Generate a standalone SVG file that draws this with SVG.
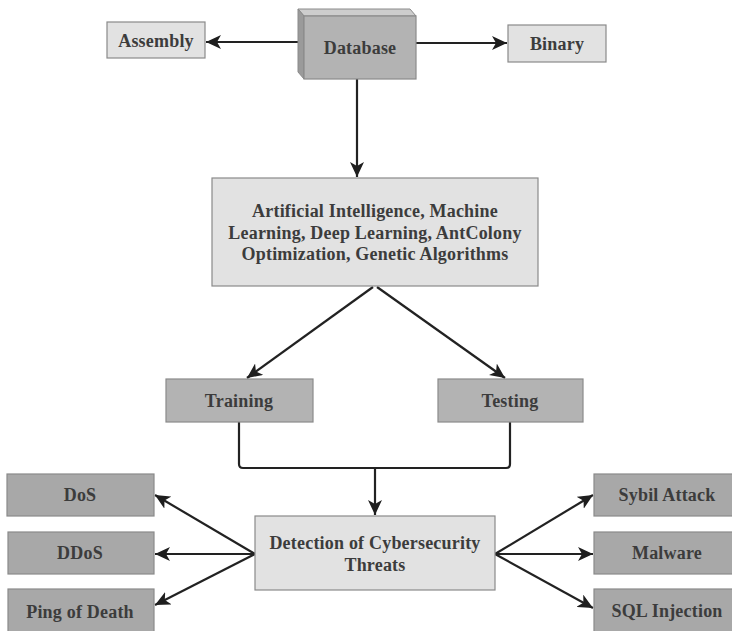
<svg xmlns="http://www.w3.org/2000/svg" width="732" height="631" viewBox="0 0 732 631">
  <style>
    .light { fill: #e2e2e2; stroke: #8a8a8a; stroke-width: 1.2; }
    .dark { fill: #b3b3b3; stroke: #8a8a8a; stroke-width: 1.2; }
    .dark2 { fill: #a8a8a8; stroke: #8a8a8a; stroke-width: 1.2; }
    .lbl { font-family: "Liberation Serif", "DejaVu Serif", serif; font-weight: bold; font-size: 18px; letter-spacing: 0.2px; fill: #3c3c3c; text-anchor: middle; dominant-baseline: central; }
    .con { fill: none; stroke: #222; stroke-width: 2.2; }
  </style>
  <defs>
    <marker id="arrow" markerUnits="userSpaceOnUse" markerWidth="16" markerHeight="14" refX="15" refY="7" orient="auto">
      <path d="M0,0 L15,7 L0,14 L4,7 Z" fill="#1e1e1e"/>
    </marker>
  </defs>

  <rect width="732" height="631" fill="#ffffff"/>

  <!-- connectors -->
  <g id="connectors">
    <path class="con" d="M304,42 L206,42" marker-end="url(#arrow)"/>
    <path class="con" d="M416,43 L507,43" marker-end="url(#arrow)"/>
    <path class="con" d="M357,79 L357,177" marker-end="url(#arrow)"/>
    <path class="con" d="M373,287 L247,378" marker-end="url(#arrow)"/>
    <path class="con" d="M377,287 L505,378" marker-end="url(#arrow)"/>
    <path class="con" d="M239,422 V464 Q239,468 243,468 H506 Q510,468 510,464 V422"/>
    <path class="con" d="M375,468 V515" marker-end="url(#arrow)"/>
    <path class="con" d="M255,554 L155,495" marker-end="url(#arrow)"/>
    <path class="con" d="M255,554 L155,554" marker-end="url(#arrow)"/>
    <path class="con" d="M255,554 L155,605" marker-end="url(#arrow)"/>
    <path class="con" d="M495,554 L593,495" marker-end="url(#arrow)"/>
    <path class="con" d="M495,554 L593,554" marker-end="url(#arrow)"/>
    <path class="con" d="M495,554 L593,608" marker-end="url(#arrow)"/>
  </g>

  <!-- top row -->
  <g id="assembly">
    <rect class="light" x="107" y="22" width="98" height="36"/>
    <text class="lbl" x="156" y="41">Assembly</text>
  </g>
  <g id="database">
    <polygon points="298,9 410,9 416,16 304,16" fill="#cdcdcd" stroke="#8a8a8a" stroke-width="1"/>
    <polygon points="298,9 304,16 304,79 298,72" fill="#9a9a9a" stroke="#8a8a8a" stroke-width="1"/>
    <rect class="dark" x="304" y="16" width="112" height="63"/>
    <text class="lbl" x="360" y="48">Database</text>
  </g>
  <g id="binary">
    <rect class="light" x="508" y="25" width="98" height="37"/>
    <text class="lbl" x="557" y="44">Binary</text>
  </g>

  <!-- methods -->
  <g id="methods">
    <rect class="light" x="212" y="178" width="326" height="108"/>
    <text class="lbl" x="375" y="211">Artificial Intelligence, Machine</text>
    <text class="lbl" x="375" y="233">Learning, Deep Learning, AntColony</text>
    <text class="lbl" x="375" y="254">Optimization, Genetic Algorithms</text>
  </g>

  <g id="training">
    <rect class="dark" x="166" y="379" width="147" height="43"/>
    <text class="lbl" x="239" y="401">Training</text>
  </g>
  <g id="testing">
    <rect class="dark" x="438" y="379" width="145" height="43"/>
    <text class="lbl" x="510" y="401">Testing</text>
  </g>

  <g id="detection">
    <rect class="light" x="255" y="516" width="240" height="74"/>
    <text class="lbl" x="375" y="543">Detection of Cybersecurity</text>
    <text class="lbl" x="375" y="565">Threats</text>
  </g>

  <!-- threat types, left -->
  <g id="dos">
    <rect class="dark2" x="7" y="474" width="147" height="42"/>
    <text class="lbl" x="80" y="495">DoS</text>
  </g>
  <g id="ddos">
    <rect class="dark2" x="8" y="532" width="146" height="42"/>
    <text class="lbl" x="80" y="553">DDoS</text>
  </g>
  <g id="ping-of-death">
    <rect class="dark2" x="8" y="589" width="146" height="44"/>
    <text class="lbl" x="80" y="612">Ping of Death</text>
  </g>

  <!-- threat types, right -->
  <g id="sybil">
    <rect class="dark2" x="594" y="474" width="140" height="42"/>
    <text class="lbl" x="667" y="495">Sybil Attack</text>
  </g>
  <g id="malware">
    <rect class="dark2" x="594" y="532" width="140" height="42"/>
    <text class="lbl" x="667" y="553">Malware</text>
  </g>
  <g id="sql-injection">
    <rect class="dark2" x="594" y="589" width="140" height="44"/>
    <text class="lbl" x="667" y="611">SQL Injection</text>
  </g>
</svg>
